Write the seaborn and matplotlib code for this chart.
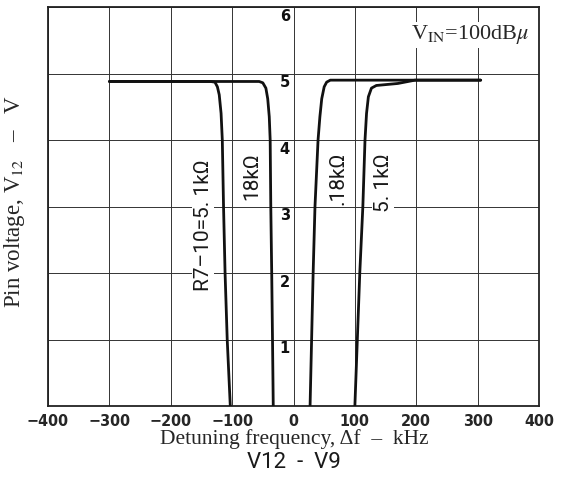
import matplotlib
matplotlib.use("Agg")
import matplotlib.pyplot as plt
import seaborn as sns
import pandas as pd

# ---- data ----
left_51k_x = [-300, -200, -135, -128, -124, -121, -118, -116, -114, -111.5, -108, -103]
left_51k_y = [4.88, 4.88, 4.88, 4.87, 4.80, 4.68, 4.40, 4.00, 3.00, 2.00, 1.00, 0.00]

left_18k_x = [-300, -100, -56, -50, -45, -42, -39.5, -38, -37, -35.5, -34.2, -33]
left_18k_y = [4.88, 4.88, 4.88, 4.86, 4.78, 4.62, 4.35, 4.00, 3.00, 2.00, 1.00, 0.00]

right_18k_x = [27, 29.5, 32, 35, 40, 43, 46, 50, 54, 60, 200, 305]
right_18k_y = [0.00, 1.00, 2.00, 3.00, 4.00, 4.35, 4.62, 4.80, 4.87, 4.90, 4.90, 4.90]

right_51k_x = [100, 104, 108, 113, 116.5, 119, 122, 127, 135, 170, 198, 305]
right_51k_y = [0.00, 1.00, 2.00, 3.00, 4.00, 4.40, 4.65, 4.78, 4.82, 4.85, 4.90, 4.90]

x_ticks = [-400, -300, -200, -100, 0, 100, 200, 300, 400]
x_ticklabels = ["\u2212400", "\u2212300", "\u2212200", "\u2212100", "0", "100", "200", "300", "400"]
y_ticks = [1, 2, 3, 4, 5, 6]
y_ticklabels = ["1", "2", "3", "4", "5", "6"]

curve_labels = ["R7\u201310=5. 1k\u03a9", "18k\u03a9", ".18k\u03a9", "5. 1k\u03a9"]
curve_label_x = [-147, -68, 73, 146]
curve_label_y = [2.72, 3.46, 3.43, 3.36]

sns.set_style("white")
plt.rcParams["mathtext.fontset"] = "stix"

fig = plt.figure(figsize=(5.64, 4.83), dpi=100)
ax = fig.add_axes([48 / 564, 1 - 406 / 483, (539 - 48) / 564, (406 - 7) / 483])

curves = [
    (left_51k_x, left_51k_y),
    (left_18k_x, left_18k_y),
    (right_18k_x, right_18k_y),
    (right_51k_x, right_51k_y),
]
for cx, cy in curves:
    df = pd.DataFrame({"x": cx, "y": cy})
    sns.lineplot(data=df, x="x", y="y", ax=ax, color="#111111", lw=2.0,
                 sort=False, estimator=None, zorder=4)

ax.set_xlim(-400, 400)
ax.set_ylim(0, 6)
ax.set_xticks(x_ticks)
ax.set_xticklabels(x_ticklabels, fontsize=11.5, fontweight="bold",
                   fontfamily="DejaVu Sans", fontstretch="condensed")
ax.set_yticks(y_ticks)
ax.set_yticklabels([])
ax.tick_params(axis="both", length=0, pad=6)

ax.grid(True, color="#333333", lw=0.7)
ax.set_axisbelow(True)
for s in ax.spines.values():
    s.set_color("#222222")
    s.set_linewidth(1.3)

# y tick labels drawn inside next to x = 0
for v, lab in zip(y_ticks, y_ticklabels):
    ax.text(-6, v - 0.14, lab, ha="right", va="center", fontsize=10.5,
            fontweight="bold", color="#111111", zorder=5)

# curve labels
for t, tx, ty in zip(curve_labels, curve_label_x, curve_label_y):
    ax.text(tx, ty, t, rotation=90, ha="center", va="center", fontsize=15,
            family=["Roboto", "DejaVu Sans"], fontweight="normal",
            fontstretch="condensed", color="#1a1a1a", zorder=3,
            bbox=dict(facecolor="white", edgecolor="none", pad=1.0))

ax.text(0.98, 0.93, "V$_{\\mathrm{IN}}$=100dB$\\mu$", transform=ax.transAxes,
        ha="right", va="center", fontsize=16, fontfamily="Liberation Serif",
        zorder=5, bbox=dict(facecolor="white", edgecolor="none", pad=1))

ax.set_xlabel("")
ax.set_ylabel("")
fig.text(294 / 564, 1 - 439 / 483, "Detuning frequency, \u0394f  \u2013  kHz",
         ha="center", va="center", fontsize=15.5, fontfamily="Liberation Serif")
fig.text(294 / 564, 1 - 463 / 483, "V12  -  V9", ha="center", va="center",
         fontsize=16, family=["Roboto", "DejaVu Sans"], fontweight="normal",
         fontstretch="condensed", color="#1a1a1a")
fig.text(15 / 564, 1 - 202 / 483, "Pin voltage, V$_{12}$   \u2013   V", rotation=90,
         ha="center", va="center", fontsize=16.5, fontfamily="Liberation Serif")

fig.savefig("out.png", dpi=100)
